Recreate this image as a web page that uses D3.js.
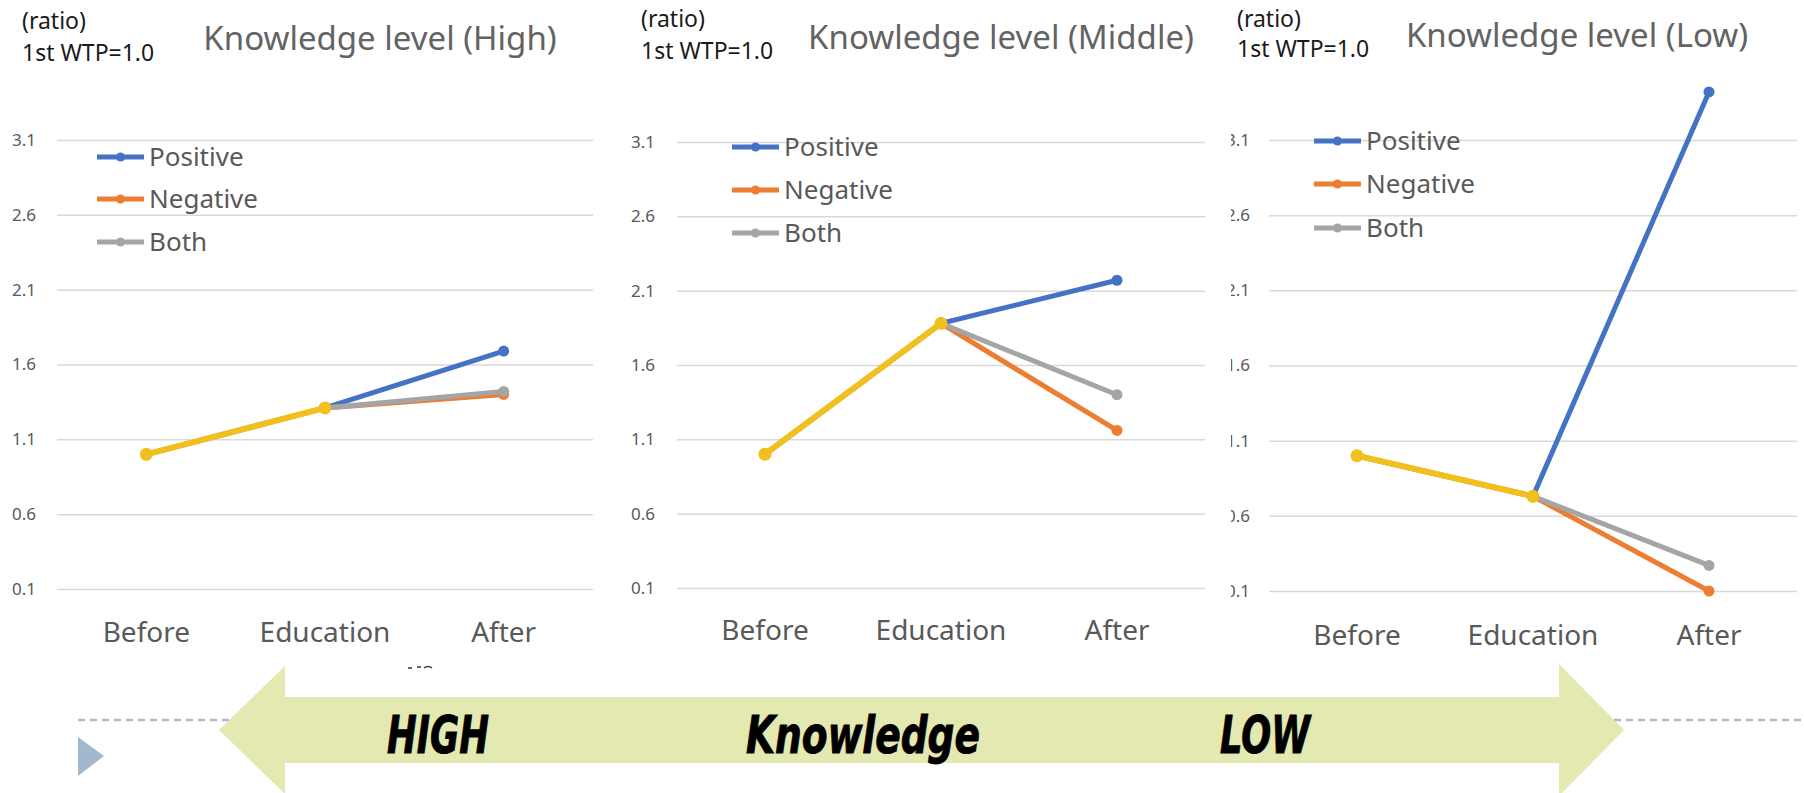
<!DOCTYPE html>
<html>
<head>
<meta charset="utf-8">
<title>Knowledge level</title>
<style>
  body { margin: 0; background: #fff; }
  .tick text { font-family: "Noto Sans", sans-serif; font-size: 17px; fill: #595959; }
  .tick line { stroke: #d9d9d9; stroke-width: 1.5; }
  .domain { display: none; }
  .cat { font-family: "Noto Sans", sans-serif; font-size: 28px; fill: #595959; text-anchor: middle; }
  .title { font-family: "Noto Sans", sans-serif; font-size: 33px; fill: #636363; text-anchor: middle; }
  .note { font-family: "Noto Sans", sans-serif; font-size: 23px; fill: #1a1a1a; }
  .leg { font-family: "Noto Sans", sans-serif; font-size: 26px; fill: #595959; }
  .big { font-family: "DejaVu Sans", sans-serif; font-weight: bold; font-style: italic; font-size: 52px; fill: #000; stroke: #000; stroke-width: 1; }
</style>
</head>
<body>
<script src="https://cdn.jsdelivr.net/npm/d3@7"></script>
<script>
var width = 1804, height = 793;

// data
var stages = ["Before", "Education", "After"];
var seriesNames = ["Positive", "Negative", "Both"];
var yTicks = [0.1, 0.6, 1.1, 1.6, 2.1, 2.6, 3.1];
var panelTitles = ["Knowledge level (High)", "Knowledge level (Middle)", "Knowledge level (Low)"];
var arrowWords = ["HIGH", "Knowledge", "LOW"];

var highPositive = [1.0, 1.31, 1.69];
var highNegative = [1.0, 1.31, 1.40];
var highBoth     = [1.0, 1.31, 1.42];
var highCommon   = [1.0, 1.31];

var midPositive = [1.0, 1.88, 2.17];
var midNegative = [1.0, 1.88, 1.16];
var midBoth     = [1.0, 1.88, 1.40];
var midCommon   = [1.0, 1.88];

var lowPositive = [1.0, 0.73, 3.42];
var lowNegative = [1.0, 0.73, 0.10];
var lowBoth     = [1.0, 0.73, 0.27];
var lowCommon   = [1.0, 0.73];

var colors = { Positive: "#4472c4", Negative: "#ed7d31", Both: "#a5a5a5", common: "#f2c01e" };

// layout of the three panels
var panels = [
  { left: 57,   right: 593,  top: 140, bottom: 589, labelX: 36,   clipX: 0,    catY: 642, titleX: 380,  titleY: 50, noteX: 22,   noteY: [29, 61], legX: 97,   legY: [157, 199, 242],
    data: { Positive: highPositive, Negative: highNegative, Both: highBoth }, common: highCommon },
  { left: 677,  right: 1205, top: 142, bottom: 588, labelX: 655,  clipX: 0,    catY: 640, titleX: 1001, titleY: 49, noteX: 641,  noteY: [27, 59], legX: 732,  legY: [147, 190, 233],
    data: { Positive: midPositive, Negative: midNegative, Both: midBoth }, common: midCommon },
  { left: 1269, right: 1797, top: 140, bottom: 591, labelX: 1250, clipX: 1231, catY: 645, titleX: 1577, titleY: 47, noteX: 1237, noteY: [27, 57], legX: 1314, legY: [141, 184, 228],
    data: { Positive: lowPositive, Negative: lowNegative, Both: lowBoth }, common: lowCommon }
];

var svg = d3.select("body").append("svg")
  .attr("width", width)
  .attr("height", height);

svg.append("rect").attr("width", width).attr("height", height).attr("fill", "#fff");

panels.forEach(function(p, i) {
  var g = svg.append("g");
  var x = d3.scalePoint().domain(stages).range([p.left, p.right]).padding(0.5);
  var y = d3.scaleLinear().domain([0.1, 3.1]).range([p.bottom, p.top]);

  // gridlines + y labels
  var ax = g.append("g")
    .attr("transform", "translate(" + p.left + ",0)")
    .call(d3.axisLeft(y).tickValues(yTicks).tickFormat(d3.format(".1f"))
      .tickSize(-(p.right - p.left)).tickPadding(p.left - p.labelX));
  if (p.clipX) {
    // the left part of these labels is cut off in the original
    svg.append("clipPath").attr("id", "clip" + i)
      .append("rect").attr("x", p.clipX - p.left).attr("y", -20).attr("width", 200).attr("height", 40);
    ax.selectAll(".tick text").attr("clip-path", "url(#clip" + i + ")");
  }

  // category labels
  g.selectAll(".cat").data(stages).enter().append("text")
    .attr("class", "cat")
    .attr("x", function(d) { return x(d); })
    .attr("y", p.catY)
    .text(function(d) { return d; });

  // title and notes
  g.append("text").attr("class", "title").attr("x", p.titleX).attr("y", p.titleY).text(panelTitles[i]);
  g.append("text").attr("class", "note").attr("x", p.noteX).attr("y", p.noteY[0]).text("(ratio)");
  g.append("text").attr("class", "note").attr("x", p.noteX).attr("y", p.noteY[1]).text("1st WTP=1.0");

  var line = d3.line()
    .x(function(d, j) { return x(stages[j]); })
    .y(function(d) { return y(d); });

  seriesNames.forEach(function(name) {
    var vals = p.data[name];
    g.append("path")
      .attr("d", line(vals))
      .attr("fill", "none")
      .attr("stroke", colors[name])
      .attr("stroke-width", 5);
    g.selectAll(null).data(vals).enter().append("circle")
      .attr("cx", function(d, j) { return x(stages[j]); })
      .attr("cy", function(d) { return y(d); })
      .attr("r", 5.5)
      .attr("fill", colors[name]);
  });

  // shared segment before / education
  g.append("path")
    .attr("d", line(p.common))
    .attr("fill", "none")
    .attr("stroke", colors.common)
    .attr("stroke-width", 6);
  g.selectAll(null).data(p.common).enter().append("circle")
    .attr("cx", function(d, j) { return x(stages[j]); })
    .attr("cy", function(d) { return y(d); })
    .attr("r", 6.5)
    .attr("fill", colors.common);

  // legend
  seriesNames.forEach(function(name, k) {
    var ly = p.legY[k];
    g.append("line")
      .attr("x1", p.legX).attr("x2", p.legX + 47)
      .attr("y1", ly).attr("y2", ly)
      .attr("stroke", colors[name]).attr("stroke-width", 5);
    g.append("circle").attr("cx", p.legX + 23.5).attr("cy", ly).attr("r", 4.5).attr("fill", colors[name]);
    g.append("text").attr("class", "leg")
      .attr("x", p.legX + 52).attr("y", ly + 9)
      .text(name);
  });
});

// bottom double arrow
svg.append("line")
  .attr("x1", 78).attr("x2", width)
  .attr("y1", 720).attr("y2", 720)
  .attr("stroke", "#a3b9cf").attr("stroke-width", 2.5)
  .attr("stroke-dasharray", "7,5");

svg.append("path")
  .attr("d", "M78,737 L104,756 L78,776 Z")
  .attr("fill", "#a1b8cd");

var ay = 730;
svg.append("path")
  .attr("d", d3.line()([
    [219, ay], [285, ay - 64], [285, ay - 33], [1559, ay - 33], [1559, ay - 66],
    [1624, ay], [1559, ay + 66], [1559, ay + 33], [285, ay + 33], [285, ay + 64]
  ]) + "Z")
  .attr("fill", "#e3e9b1");

// small leftover glyph marks above the arrow
svg.append("path")
  .attr("d", "M408,668 h4 M417,667 h4 M424,668 q4,-3 8,0")
  .attr("stroke", "#333").attr("stroke-width", 1.5).attr("fill", "none");

var wordPos = [[387, 102], [746, 234], [1220, 90]];
svg.selectAll(".big").data(arrowWords).enter().append("text")
  .attr("class", "big")
  .attr("x", function(d, i) { return wordPos[i][0]; })
  .attr("y", 753)
  .attr("textLength", function(d, i) { return wordPos[i][1]; })
  .attr("lengthAdjust", "spacingAndGlyphs")
  .text(function(d) { return d; });
</script>
</body>
</html>
